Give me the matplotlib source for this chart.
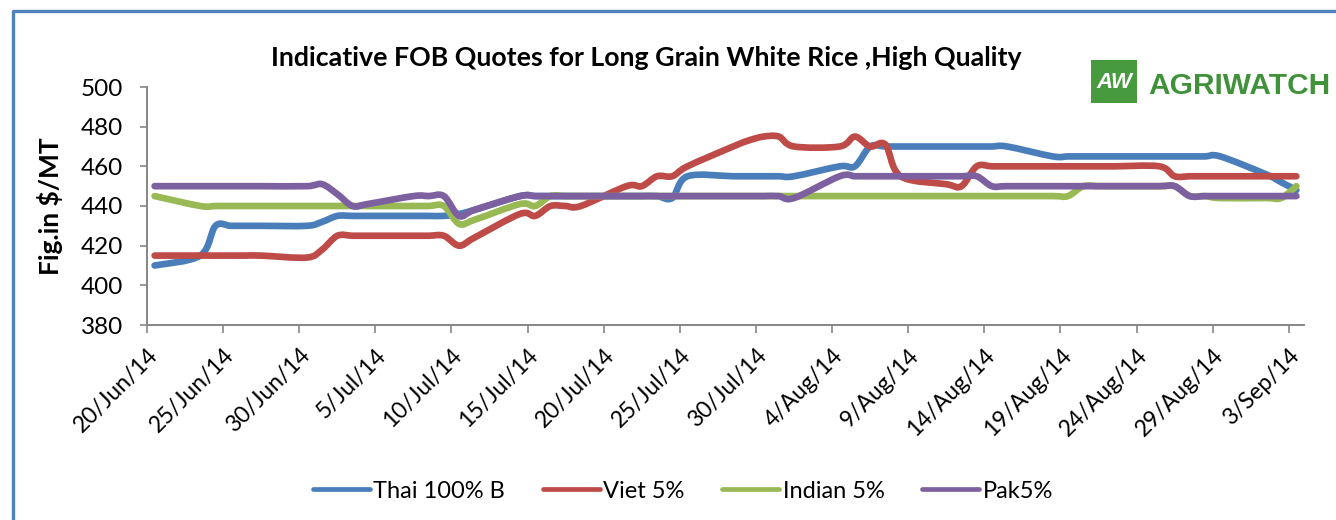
import matplotlib
matplotlib.use('Agg')
import matplotlib.pyplot as plt
import numpy as np
import pandas as pd
from matplotlib.path import Path
from matplotlib.patches import PathPatch, Rectangle
from matplotlib.lines import Line2D

plt.rcParams['font.family'] = ['Lato', 'DejaVu Sans']

# ─── Data (weekday quotes, $/MT) ─────────────────────────────────────────────
dates = pd.bdate_range('2014-06-20', '2014-09-03')

thai = [410, 415, 430, 430, 430, 430, 430, 432, 435, 435, 435, 435, 435, 435,
        436, 438, 445, 445, 445, 445, 445, 445, 445, 445, 444, 455, 455, 455,
        455, 455, 455, 460, 460, 470, 470, 470, 470, 470, 470, 470, 470, 465,
        465, 465, 465, 465, 465, 465, 465, 465, 465, 456, 452, 448]
viet = [415, 415, 415, 415, 415, 415, 414, 418, 425, 425, 425, 425, 425, 425,
        420, 424, 436, 435, 440, 440, 440, 450, 450, 455, 455, 460, 470, 473,
        475, 475, 470, 470, 475, 470, 471, 455, 451, 450, 460, 460, 460, 460,
        460, 460, 460, 460, 460, 455, 455, 455, 455, 455, 455, 455]
indian = [445, 440, 440, 440, 440, 440, 440, 440, 440, 440, 440, 440, 440, 440,
          431, 433, 441, 440, 445, 445, 445, 445, 445, 445, 445, 445, 445, 445,
          445, 445, 445, 445, 445, 445, 445, 445, 445, 445, 445, 445, 445, 445,
          445, 450, 450, 450, 450, 450, 445, 445, 444, 444, 444, 450]
pak = [450, 450, 450, 450, 450, 450, 450, 451, 446, 440, 441, 445, 445, 445,
       435, 438, 445, 445, 445, 445, 445, 445, 445, 445, 445, 445, 445, 445,
       445, 445, 444, 455, 455, 455, 455, 455, 455, 455, 455, 450, 450, 450,
       450, 450, 450, 450, 450, 450, 445, 445, 445, 445, 445, 445]

series_names = ['Thai 100% B', 'Viet 5%', 'Indian 5%', 'Pak5%']
series_vals = [thai, viet, indian, pak]
colors = ['#4A7EBB', '#BE4B48', '#98B954', '#7D60A0']

tick_days = np.arange(0, 76, 5)
tick_labels = ['20/Jun/14', '25/Jun/14', '30/Jun/14', '5/Jul/14', '10/Jul/14',
               '15/Jul/14', '20/Jul/14', '25/Jul/14', '30/Jul/14', '4/Aug/14',
               '9/Aug/14', '14/Aug/14', '19/Aug/14', '24/Aug/14', '29/Aug/14',
               '3/Sep/14']

# day offset, points sit mid-day like Excel's date axis
xdays = (dates - dates[0]).days.values + 0.5


def smooth_path(x, y):
    """Excel-style smoothed line: Catmull-Rom through the points as Beziers."""
    P = np.column_stack([x, y]).astype(float)
    Pm = np.vstack([P[0], P, P[-1]])
    verts = [P[0]]
    codes = [Path.MOVETO]
    for i in range(len(P) - 1):
        p0, p1, p2, p3 = Pm[i], Pm[i + 1], Pm[i + 2], Pm[i + 3]
        verts += [p1 + (p2 - p0) / 6, p2 - (p3 - p1) / 6, p2]
        codes += [Path.CURVE4] * 3
    return Path(verts, codes)


fig = plt.figure(figsize=(13.36, 5.2), dpi=100)
fig.patch.set_facecolor('white')
ax = fig.add_axes([147 / 1336, 1 - 325 / 520, (1304 - 147) / 1336, (325 - 87) / 520])

for name, vals, col in zip(series_names, series_vals, colors):
    ax.add_patch(PathPatch(smooth_path(xdays, vals), facecolor='none',
                           edgecolor=col, lw=4.8, capstyle='round',
                           joinstyle='round'))

ax.set_xlim(0, 76)
ax.set_ylim(380, 500)
ax.set_yticks(np.arange(380, 501, 20))
ax.set_xticks(tick_days)
ax.set_xticklabels(tick_labels, rotation=45, ha='right', rotation_mode='anchor')

for s in ['top', 'right']:
    ax.spines[s].set_visible(False)
for s in ['left', 'bottom']:
    ax.spines[s].set_color('#868686')
    ax.spines[s].set_linewidth(1.4)
ax.tick_params(axis='y', direction='out', length=5, width=1.2, color='#868686',
               labelsize=17.5, pad=12)
ax.tick_params(axis='x', direction='out', length=6, width=1.2, color='#868686',
               labelsize=16.5, pad=8)

ax.set_ylabel('Fig.in $/MT', fontsize=19, fontweight='bold', labelpad=13)

fig.text(646 / 1336, 1 - 58 / 520, 'Indicative FOB Quotes for Long Grain White Rice ,High Quality',
         ha='center', va='center', fontsize=19.3, fontweight='bold')

# legend
handles = [Line2D([], [], color=c, lw=3.4, solid_capstyle='round') for c in colors]
fig.legend(handles, series_names, loc='center', bbox_to_anchor=(683 / 1336, 1 - 491 / 520),
           ncol=4, frameon=False, fontsize=17, handlelength=2.4,
           handletextpad=0.15, columnspacing=1.6)

# AGRIWATCH logo
fig.patches.append(Rectangle((1091 / 1336, 1 - 103 / 520), 46 / 1336, 43 / 520,
                             transform=fig.transFigure, facecolor='#479A3E',
                             edgecolor='none'))
fig.text(1114 / 1336, 1 - 83 / 520, 'AW', color='white', fontsize=16,
         fontweight='bold', style='italic', ha='center', va='center',
         family='Liberation Sans')
fig.text(1148 / 1336, 1 - 86 / 520, 'AGRIWATCH', color='#40923A', fontsize=21.5,
         fontweight='bold', ha='left', va='center', family='Liberation Sans')

# blue frame (top and left edges visible)
fig.add_artist(Line2D([13 / 1336, 13 / 1336, 1.0], [0.0, 1 - 11 / 520, 1 - 11 / 520],
                      transform=fig.transFigure, color='#4F81BD', lw=2.4))

fig.savefig('out.png', dpi=100, facecolor='white')
